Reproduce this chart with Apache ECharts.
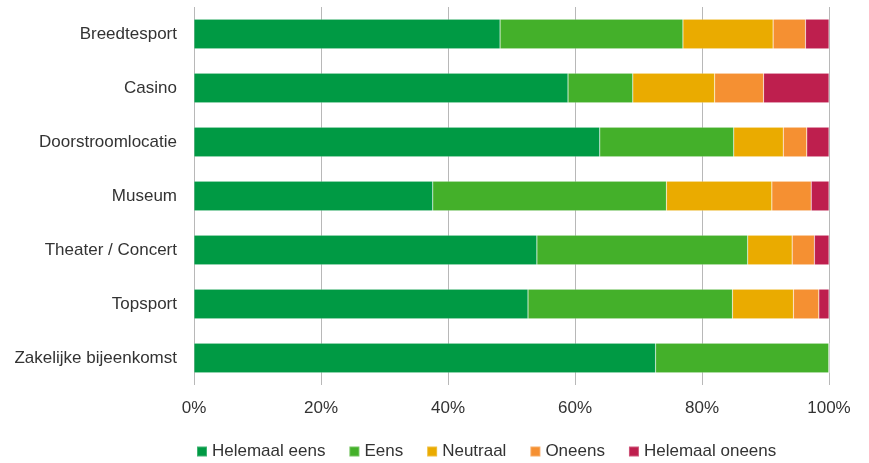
<!DOCTYPE html>
<html><head><meta charset="utf-8">
<script src="https://cdn.jsdelivr.net/npm/echarts@6/dist/echarts.min.js"></script>
<style>html,body{margin:0;padding:0;background:#fff}#c{width:869px;height:463px}</style>
</head><body><div id="c"></div>
<script>
const categories = ["Breedtesport","Casino","Doorstroomlocatie","Museum","Theater / Concert","Topsport","Zakelijke bijeenkomst"];
const seriesNames = ["Helemaal eens","Eens","Neutraal","Oneens","Helemaal oneens"];
const helemaalEens   = [48.2, 58.9, 63.9, 37.6, 54.0, 52.6, 72.7];
const eens           = [28.8, 10.2, 21.1, 36.8, 33.2, 32.2, 27.3];
const neutraal       = [14.2, 12.9,  7.8, 16.6,  7.0,  9.6, 0];
const oneens         = [ 5.1,  7.7,  3.7,  6.2,  3.5,  4.0, 0];
const helemaalOneens = [ 3.7, 10.3,  3.5,  2.8,  2.3,  1.6, 0];
const xTicks = [0, 20, 40, 60, 80, 100];

const colors = ["#009A44","#44B02A","#EAAB00","#F59032","#BE1F4E"];
const allData = [helemaalEens, eens, neutraal, oneens, helemaalOneens];
const font = "'Liberation Sans', Arial, sans-serif";

const chart = echarts.init(document.getElementById('c'), null, {renderer:'canvas'});
chart.setOption({
  animation:false,
  color: colors,
  grid:{left:194, right:40, top:7, bottom:78, containLabel:false},
  legend:{
    top:443, left:196, padding:0, itemWidth:10, itemHeight:10, itemGap:23,
    icon:'rect',
    textStyle:{fontFamily:font, fontSize:17, color:'#333'},
    data: seriesNames
  },
  xAxis:{
    type:'value', min:xTicks[0], max:xTicks[xTicks.length-1], interval:20,
    axisLine:{show:false}, axisTick:{show:false},
    splitLine:{show:true, lineStyle:{color:'#b8b8b8', width:1}},
    axisLabel:{formatter:'{value}%', fontFamily:font, fontSize:17, color:'#333', margin:15}
  },
  yAxis:{
    type:'category', data:categories, inverse:true,
    axisLine:{show:false}, axisTick:{show:false},
    axisLabel:{fontFamily:font, fontSize:17, color:'#333', margin:17}
  },
  series: seriesNames.map((n,i)=>({
    name:n, type:'bar', stack:'total', barWidth:'55%',
    data: allData[i],
    itemStyle:{borderColor:'rgba(255,255,255,0.25)', borderWidth:0.6}
  }))
});
</script></body></html>
